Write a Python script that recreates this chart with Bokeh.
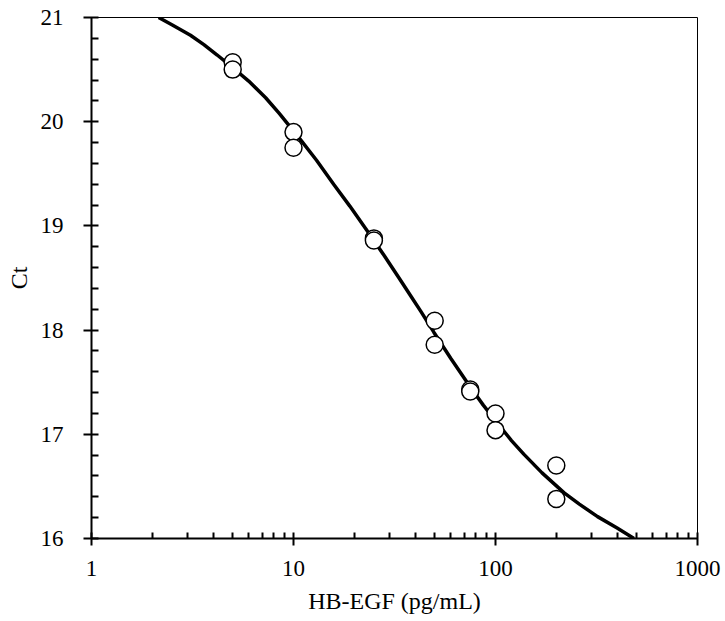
from bokeh.plotting import figure
from bokeh.models import Range1d, FixedTicker, BasicTickFormatter
from bokeh.embed import file_html
from bokeh.resources import INLINE

# Measured points (concentration pg/mL, Ct)
conc = [5, 5, 10, 10, 25, 25, 50, 50, 75, 75, 100, 100, 200, 200]
ct = [20.57, 20.50, 19.90, 19.75, 18.88, 18.86, 18.09, 17.86, 17.43, 17.41, 17.20, 17.04, 16.70, 16.38]

# Fitted curve
fit_x = [2.15, 2.5, 3.09, 3.6, 4.19, 5.0, 6.0, 7.28, 8.5, 10.8, 13, 15.8, 19, 23.2, 28, 33.3,
         38, 42.7, 49.5, 60, 75.3, 87, 100, 120, 138, 170, 218, 260, 320, 400, 485]
fit_y = [21.00, 20.93, 20.83, 20.74, 20.64, 20.52, 20.39, 20.23, 20.08, 19.83, 19.63, 19.40,
         19.19, 18.95, 18.72, 18.50, 18.33, 18.18, 17.98, 17.73, 17.45, 17.28, 17.13, 16.94,
         16.81, 16.63, 16.44, 16.33, 16.21, 16.10, 16.00]

x_major = [1, 10, 100, 1000]
x_minor = [2, 3, 4, 5, 6, 7, 8, 9, 20, 30, 40, 50, 60, 70, 80, 90, 200, 300, 400, 500, 600, 700, 800, 900]
y_major = [16, 17, 18, 19, 20, 21]
y_minor = [16.2, 16.4, 16.6, 16.8, 17.2, 17.4, 17.6, 17.8, 18.2, 18.4, 18.6, 18.8,
           19.2, 19.4, 19.6, 19.8, 20.2, 20.4, 20.6, 20.8]

FONT = "Liberation Serif"

p = figure(width=725, height=621, x_axis_type="log",
           x_range=Range1d(1, 1000), y_range=Range1d(16, 21),
           output_backend="svg", toolbar_location=None,
           min_border_left=91, min_border_top=17, min_border_right=28, min_border_bottom=83)

p.background_fill_color = "white"
p.border_fill_color = "white"
p.outline_line_color = "black"
p.outline_line_width = 1
p.xgrid.visible = False
p.ygrid.visible = False

p.line(fit_x, fit_y, line_color="black", line_width=3.5)
p.scatter(conc, ct, marker="circle", size=17, fill_color="white",
          line_color="black", line_width=1.5)

xa = p.xaxis[0]
xa.ticker = FixedTicker(ticks=x_major, minor_ticks=x_minor)
xa.formatter = BasicTickFormatter()
xa.major_label_overrides = {1: "1", 10: "10", 100: "100", 1000: "1000"}
xa.axis_label = "HB-EGF (pg/mL)"
xa.major_tick_out = 7
xa.major_tick_in = 6
xa.minor_tick_in = 6
xa.minor_tick_out = 0
xa.major_label_standoff = 15
xa.axis_label_standoff = 9

ya = p.yaxis[0]
ya.ticker = FixedTicker(ticks=y_major, minor_ticks=y_minor)
ya.axis_label = "Ct"
ya.major_tick_out = 8
ya.major_tick_in = 7
ya.minor_tick_in = 7
ya.minor_tick_out = 0
ya.major_label_standoff = 20
ya.axis_label_standoff = 6

for ax in (xa, ya):
    ax.axis_line_color = "black"
    ax.axis_line_width = 2
    ax.major_tick_line_color = "black"
    ax.major_tick_line_width = 2
    ax.minor_tick_line_color = "black"
    ax.minor_tick_line_width = 2
    ax.major_label_text_font = FONT
    ax.major_label_text_font_size = "23px"
    ax.major_label_text_color = "black"
    ax.axis_label_text_font = FONT
    ax.axis_label_text_font_size = "24px"
    ax.axis_label_text_font_style = "normal"
    ax.axis_label_text_color = "black"

open("out.html", "w").write(file_html(p, INLINE))
